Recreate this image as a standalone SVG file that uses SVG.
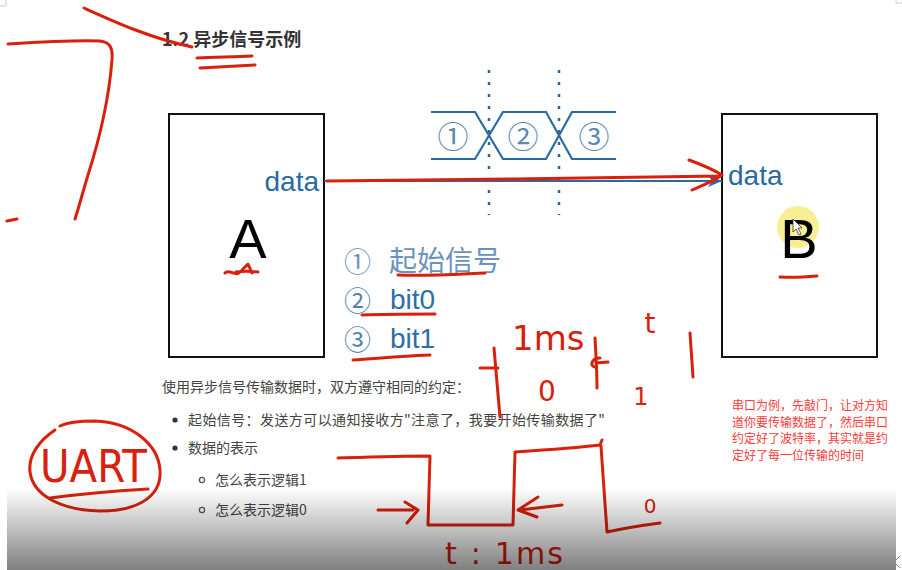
<svg xmlns="http://www.w3.org/2000/svg" width="902" height="570" viewBox="0 0 902 570">
<defs>
<style>
.box{fill:#fff;stroke:#111;stroke-width:2}
.lat{font-family:"Liberation Sans",Arial,sans-serif}
.cjk{font-family:"Noto Sans CJK SC","Noto Sans",sans-serif}
.data{fill:#2a6aa3;font-size:28px}
.big{fill:#000;font-size:56px}
.wave{fill:none;stroke:#2a6aa3;stroke-width:2.2}
.dot{fill:none;stroke:#2e6496;stroke-width:2.5;stroke-dasharray:3 9}
.circ{fill:#5b88b5;font-size:31px}
.leg{fill:#2c6ea8;font-size:28px}
.body{fill:#444;font-size:14px}
.ink{fill:none;stroke:#d8200c;stroke-width:3;stroke-linecap:round;stroke-linejoin:round}
.hand{fill:#d8200c;font-family:"DejaVu Sans","Liberation Sans",sans-serif;font-weight:normal}
.note{fill:#ff3838;font-size:12px}
</style>
<linearGradient id="shade" x1="0" y1="0" x2="0" y2="1">
<stop offset="0" stop-color="#000" stop-opacity="0"/>
<stop offset="1" stop-color="#000" stop-opacity="0.5"/>
</linearGradient>
<marker id="bluehead" markerWidth="14" markerHeight="12" refX="14" refY="6" orient="auto" markerUnits="userSpaceOnUse">
<path d="M0,0 L14,6 L0,12 L4,6 Z" fill="#2a6aa3"/>
</marker>
</defs>
<rect x="0" y="0" width="902" height="570" fill="#fff"/>
<path d="M6,0 V6 H0 M896,0 V3 H902" fill="none" stroke="#ccc" stroke-width="1"/>

<g id="title">
<text class="cjk" x="162" y="46" font-size="18" font-weight="bold" fill="#333">1.2 异步信号示例</text>
</g>

<g id="nodeA">
<rect class="box" x="169" y="114" width="155" height="243"/>
<text class="lat data" x="319" y="191" text-anchor="end">data</text>
<text class="lat big" x="248" y="258" text-anchor="middle">A</text>
</g>

<g id="nodeB">
<rect class="box" x="722" y="114" width="155" height="243"/>
<text class="lat data" x="728" y="185">data</text>
<circle cx="798" cy="227" r="21" fill="#f3e13a" fill-opacity="0.55"/>
<text class="lat big" x="799" y="258" text-anchor="middle">B</text>
<path d="M793,219 L793,232 L796,229 L799,235 L801,234 L798,228 L802,228 Z" fill="#fff" stroke="#333" stroke-width="0.8"/>
</g>

<g id="timing">
<path class="dot" d="M489,70 V215 M559,70 V215"/>
<path class="wave" d="M431,112 H475 L503,159 H546 L572,112 H616 M431,159 H475 L503,112 H546 L572,159 H616"/>
<text class="cjk circ" x="453" y="148" text-anchor="middle">①</text>
<text class="cjk circ" x="523" y="148" text-anchor="middle">②</text>
<text class="cjk circ" x="594" y="148" text-anchor="middle">③</text>
</g>

<g id="legend">
<text class="cjk" x="344" y="272" font-size="27" fill="#6a92bb">①</text>
<text class="cjk" x="389" y="271" font-size="28" fill="#6a92bb">起始信号</text>
<text class="cjk" x="344" y="311" font-size="27" fill="#4f80b0">②</text>
<text class="lat leg" x="390" y="309">bit0</text>
<text class="cjk" x="344" y="350" font-size="27" fill="#4f80b0">③</text>
<text class="lat leg" x="390" y="348">bit1</text>
</g>

<g id="connectors">
<line x1="324" y1="181" x2="722" y2="181" stroke="#2a6aa3" stroke-width="2.2" marker-end="url(#bluehead)"/>
</g>

<g id="notes">
<text class="cjk body" x="162" y="392">使用异步信号传输数据时，双方遵守相同的约定：</text>
<circle cx="175" cy="420" r="2.6" fill="#333"/>
<text class="cjk body" x="188" y="425" textLength="417" lengthAdjust="spacing">起始信号：发送方可以通知接收方"注意了，我要开始传输数据了"</text>
<circle cx="175" cy="448" r="2.6" fill="#333"/>
<text class="cjk body" x="188" y="453">数据的表示</text>
<circle cx="202" cy="480" r="2.6" fill="none" stroke="#555" stroke-width="1.2"/>
<text class="cjk body" x="215" y="485">怎么表示逻辑1</text>
<circle cx="202" cy="510" r="2.6" fill="none" stroke="#555" stroke-width="1.2"/>
<text class="cjk body" x="215" y="515">怎么表示逻辑0</text>
</g>

<g id="remark">
<text class="cjk note" x="732" y="410">串口为例，先敲门，让对方知</text>
<text class="cjk note" x="732" y="427">道你要传输数据了，然后串口</text>
<text class="cjk note" x="732" y="443">约定好了波特率，其实就是约</text>
<text class="cjk note" x="732" y="460">定好了每一位传输的时间</text>
</g>

<g id="annotations">
<path class="ink" d="M84,8 C115,22 150,38 192,47"/>
<path class="ink" d="M197,58 C215,57 235,57 252,56 M200,68 C220,67 238,66 255,65"/>
<path class="ink" d="M8,44 C40,42 75,40 100,41 C110,42 113,48 112,60 C108,110 96,150 88,175 C82,195 78,210 75,219"/>
<path class="ink" d="M7,221 L17,219"/>
<path class="ink" d="M327,181 C450,180 600,178 720,176 M689,160 C700,164 712,169 722,175 C712,182 701,186 692,190"/>
<path class="ink" d="M225,273 C230,268 236,279 242,270 L248,264 L252,273 M236,272 C243,271 250,271 258,272"/>
<path class="ink" d="M780,277 C795,278 806,277 817,276"/>
<path class="ink" d="M398,275 C430,276 460,274 485,273 M362,315 C385,314 410,314 435,314 M353,360 C380,358 405,356 430,355"/>
<path class="ink" d="M480,368 L498,368 M494,348 C496,370 498,395 500,417"/>
<path class="ink" d="M595,338 C596,355 597,372 597,388 M600,358 C592,358 589,366 595,367 M596,363 L608,362"/>
<path class="ink" d="M690,333 C691,348 692,362 693,377"/>
<path class="ink" d="M338,458 C370,457 400,456 430,456 L428,525 L513,525 L515,452 C545,450 575,448 600,445 L602,440 M601,446 C603,475 605,505 607,532 C625,528 645,525 660,523"/>
<path class="ink" d="M378,510 L413,510 M405,502 L418,510 L407,523"/>
<path class="ink" d="M562,505 L520,510 M538,497 L518,510 L537,517"/>
<path class="ink" d="M55,430 C40,440 28,455 30,472 C33,495 60,510 100,511 C140,511 162,495 160,470 C158,443 130,422 95,421 C80,421 68,422 60,426"/>
<path class="ink" d="M50,498 C80,494 115,491 148,489"/>
<text class="hand" x="512" y="350" font-size="34">1ms</text>
<text class="hand" x="650" y="333" font-size="28" text-anchor="middle">t</text>
<text class="hand" x="547" y="401" font-size="28" text-anchor="middle">0</text>
<text class="hand" x="641" y="405" font-size="24" text-anchor="middle">1</text>
<text class="hand" x="650" y="513" font-size="20" text-anchor="middle">0</text>
<text class="hand" x="445" y="564" font-size="30" textLength="118" lengthAdjust="spacing">t : 1ms</text>
<text class="hand" x="40" y="482" font-size="44" textLength="107" lengthAdjust="spacingAndGlyphs">UART</text>
</g>

<g id="overlay">
<rect x="7" y="488" width="889" height="82" fill="url(#shade)"/>
<path d="M900,556 L894,562 L900,568" fill="none" stroke="#888" stroke-width="1"/>
</g>
</svg>
